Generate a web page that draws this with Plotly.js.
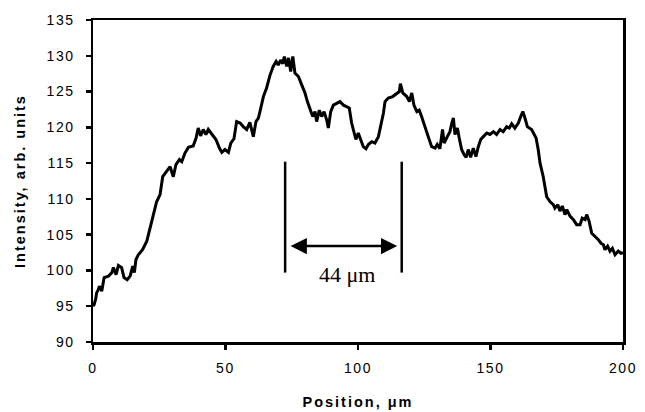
<!DOCTYPE html>
<html>
<head>
<meta charset="utf-8">
<script src="https://cdn.plot.ly/plotly-3.0.1.min.js"></script>
<style>
  html, body { margin: 0; padding: 0; background: #fff; }
  #chart { width: 645px; height: 412px; }
  .xtick text, .ytick text { letter-spacing: 1.6px; }
  .g-xtitle text, .g-ytitle text { letter-spacing: 2px; }
</style>
</head>
<body>
<div id="chart"></div>
<script>
const positionUm = [
  0, 0.4, 1.0, 1.4, 2.0, 2.4, 3.3, 4.2, 5.8, 7.1, 7.7, 8.7, 9.6, 10.8, 11.7, 12.9, 14.0, 15.0, 15.6, 16.2,
  17.1, 18.7, 20.3, 21.5, 22.8, 24.0, 25.3, 26.3, 27.2, 28.4, 29.1, 30.3, 31.3, 32.6, 33.5, 34.7, 36.0, 37.8,
  38.9, 39.7, 40.6, 41.6, 42.6, 43.5, 44.8, 46.4, 47.7, 48.6, 49.8, 51.1, 52.0, 53.2, 54.2, 55.5, 56.7, 58.0,
  59.2, 60.5, 61.5, 62.4, 63.0, 64.3, 65.5, 66.8, 68.0, 69.1, 69.9, 70.8, 71.6, 72.2, 73.1, 73.8, 74.6, 75.4,
  76.2, 77.5, 78.8, 80.0, 80.9, 81.9, 82.9, 83.8, 84.4, 85.4, 86.3, 87.2, 88.2, 88.8, 89.7, 90.7, 92.0, 93.2,
  94.5, 95.7, 96.7, 97.6, 98.5, 99.2, 100.1, 101.0, 102.0, 103.0, 103.9, 105.2, 106.4, 107.7, 108.6, 109.6,
  110.2, 111.4, 113.1, 114.6, 115.6, 116.0, 116.9, 118.4, 119.4, 120.3, 121.1, 122.2, 123.1, 124.0, 125.3,
  126.5, 127.8, 129.1, 129.9, 130.9, 131.9, 132.5, 133.7, 134.7, 135.4, 136.0, 136.6, 137.5, 138.2, 139.1,
  140.0, 140.8, 141.6, 142.5, 143.5, 144.5, 145.4, 146.3, 147.3, 148.6, 149.8, 151.1, 152.3, 153.6, 154.8,
  156.1, 157.1, 158.0, 159.2, 160.5, 161.4, 162.2, 163.0, 163.9, 165.5, 167.2, 168.0, 168.7, 169.9, 171.2,
  172.5, 173.7, 174.3, 175.4, 176.2, 177.1, 178.1, 178.8, 180.0, 181.3, 182.5, 183.8, 184.6, 185.7, 186.3,
  187.2, 188.2, 189.4, 190.7, 191.7, 192.6, 193.2, 194.2, 195.1, 196.0, 197.0, 198.2, 199.2, 200.0
];
const intensity = [
  95.0, 95.2, 96.0, 96.9, 97.3, 97.8, 97.1, 99.0, 99.2, 99.7, 100.4, 99.4, 100.7, 100.4, 99.0, 98.7, 99.2, 100.6, 99.7, 101.5,
  102.2, 102.9, 104.1, 105.7, 107.8, 109.6, 110.6, 113.1, 113.6, 114.1, 114.5, 113.1, 114.8, 115.5, 115.2, 116.4, 117.2, 117.4,
  118.5, 119.9, 118.8, 119.7, 119.0, 119.7, 119.0, 118.3, 117.1, 116.5, 116.9, 116.5, 117.8, 118.4, 120.8, 120.6, 120.1, 119.7,
  120.7, 118.7, 120.8, 121.3, 122.2, 124.3, 125.5, 127.3, 128.5, 129.2, 128.7, 129.4, 128.9, 129.9, 128.5, 129.7, 127.8, 129.9,
  127.6, 127.1, 125.9, 124.8, 123.6, 122.4, 121.5, 122.2, 120.8, 122.4, 121.5, 122.2, 121.0, 119.9, 122.2, 123.1, 123.4, 123.6,
  123.1, 122.9, 122.7, 120.6, 119.4, 118.3, 119.2, 118.3, 117.3, 117.0, 117.6, 118.0, 117.8, 118.7, 120.3, 122.0,
  123.6, 124.1, 124.3, 124.8, 125.0, 126.1, 124.8, 124.3, 123.6, 124.8, 123.1, 122.2, 122.4, 121.5, 119.9,
  118.7, 117.3, 117.1, 117.6, 117.0, 119.7, 117.8, 118.7, 119.4, 120.6, 121.3, 119.0, 119.9, 118.5, 116.9,
  116.2, 115.8, 116.9, 115.8, 117.1, 115.9, 117.3, 118.3, 118.7, 119.2, 119.0, 119.4, 119.0, 119.7, 119.4,
  120.1, 119.9, 120.5, 119.9, 120.6, 121.5, 122.2, 121.3, 120.1, 119.7, 118.5, 116.9, 115.0, 113.1, 110.3,
  109.6, 109.2, 108.7, 109.2, 108.3, 109.0, 107.8, 108.5, 107.6, 107.1, 106.4, 106.4, 107.3, 107.1, 107.8,
  106.9, 105.2, 104.8, 104.3, 103.8, 103.6, 102.9, 103.4, 102.7, 103.1, 102.2, 102.7, 102.4, 102.5
];
const xTicks = [0, 50, 100, 150, 200];
const yTicks = [90, 95, 100, 105, 110, 115, 120, 125, 130, 135];
const markerPositions = [72.5, 116.5];
const markerRange = [99.7, 115.2];
const arrowSpan = [74.0, 114.8];
const arrowLevel = 103.4;
const spanLabel = '44 \u03bcm';
const spanLabelPos = [96.0, 99.4];

const black = '#000000';
const shapes = markerPositions.map(xv => ({
  type: 'line', xref: 'x', yref: 'y',
  x0: xv, x1: xv, y0: markerRange[0], y1: markerRange[1],
  line: { color: black, width: 2.5 }
}));

const annotations = [
  {
    xref: 'x', yref: 'y', axref: 'x', ayref: 'y',
    x: arrowSpan[1], y: arrowLevel, ax: arrowSpan[0], ay: arrowLevel,
    text: '', showarrow: true, arrowhead: 2, arrowside: 'end+start',
    arrowsize: 1.3, arrowwidth: 2.5, arrowcolor: black, standoff: 0, startstandoff: 0
  },
  {
    xref: 'x', yref: 'y', x: spanLabelPos[0], y: spanLabelPos[1],
    text: spanLabel, showarrow: false, xanchor: 'center', yanchor: 'middle',
    font: { family: 'Liberation Serif, Times New Roman, serif', size: 22, color: black }
  }
];

const trace = {
  x: positionUm, y: intensity, type: 'scatter', mode: 'lines',
  line: { color: black, width: 3 }, hoverinfo: 'skip'
};

const tickFont = { family: 'Liberation Sans, Arial, sans-serif', size: 14, color: black };
const titleFont = { family: 'Liberation Sans, Arial, sans-serif', size: 14.5, color: black, weight: 'bold' };

const layout = {
  width: 645, height: 412,
  margin: { l: 93, r: 22, t: 20, b: 70 },
  paper_bgcolor: '#ffffff', plot_bgcolor: '#ffffff',
  showlegend: false,
  xaxis: {
    range: [0, 200], tickmode: 'array', tickvals: xTicks, ticktext: xTicks.map(String),
    ticks: 'outside', ticklen: 5, tickwidth: 2.5, tickcolor: black,
    showline: true, linewidth: 2.5, linecolor: black, mirror: true,
    showgrid: false, zeroline: false, tickfont: tickFont, ticklabelstandoff: 7,
    title: { text: 'Position, \u03bcm', font: titleFont, standoff: 22 }
  },
  yaxis: {
    range: [90, 135], tickmode: 'array', tickvals: yTicks, ticktext: yTicks.map(String),
    ticks: 'outside', ticklen: 5, tickwidth: 2.5, tickcolor: black,
    showline: true, linewidth: 2.5, linecolor: black, mirror: true,
    showgrid: false, zeroline: false, tickfont: tickFont, ticklabelstandoff: 8,
    title: { text: 'Intensity, arb. units', font: titleFont, standoff: 18 }
  },
  shapes: shapes,
  annotations: annotations
};

Plotly.newPlot('chart', [trace], layout, { staticPlot: true, displayModeBar: false });
</script>
</body>
</html>
